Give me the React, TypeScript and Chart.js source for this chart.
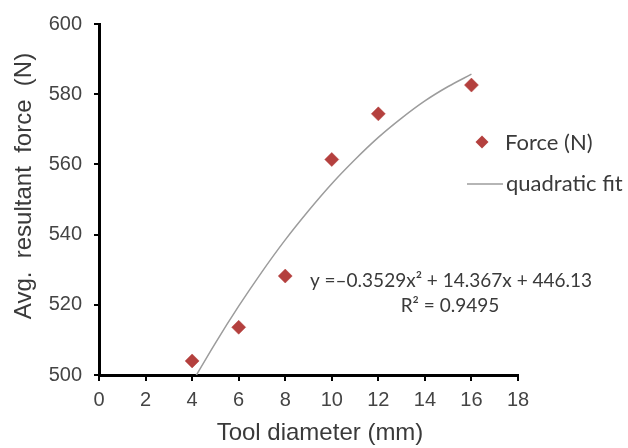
import React, { useEffect, useRef } from "react";
import { Chart, registerables } from "chart.js";

Chart.register(...registerables);

const forceX = [4, 6, 8, 10, 12, 16];
const forceY = [504, 513.6, 528.2, 561.4, 574.4, 582.6];

const fitX = [4, 5, 6, 7, 8, 9, 10, 11, 12, 13, 14, 15, 16];
const fitY = [497.9, 509.1, 519.6, 529.4, 538.5, 546.8, 554.5, 561.4, 567.7, 573.2, 578.1, 582.2, 585.7];

const xTicks = [0, 2, 4, 6, 8, 10, 12, 14, 16, 18];
const yTicks = [500, 520, 540, 560, 580, 600];

const seriesLabels = ["Force (N)", "quadratic fit"];
const xTitle = "Tool diameter (mm)";
const yTitle = "Avg.  resultant  force  (N)";
const equationText = "y =\u20130.3529x\u00b2 + 14.367x + 446.13";
const r2Text = "R\u00b2 = 0.9495";

const MARKER = "#B4403E";
const FITLINE = "#9C9C9C";
const TEXT = "#3a3a3a";

const extrasPlugin = {
  id: "extras",
  afterDraw(chart: any) {
    const ctx = chart.ctx;
    ctx.save();
    ctx.fillStyle = TEXT;
    // axis titles
    ctx.font = "24px 'Liberation Sans'";
    ctx.textAlign = "center";
    ctx.textBaseline = "alphabetic";
    ctx.fillText(xTitle, 320, 440);
    ctx.save();
    ctx.translate(31, 186);
    ctx.rotate(-Math.PI / 2);
    ctx.fillText(yTitle, 0, 0);
    ctx.restore();

    // legend
    const mx = 482, my = 142, r = 6.5;
    ctx.fillStyle = MARKER;
    ctx.beginPath();
    ctx.moveTo(mx - r, my);
    ctx.lineTo(mx, my - r);
    ctx.lineTo(mx + r, my);
    ctx.lineTo(mx, my + r);
    ctx.closePath();
    ctx.fill();
    ctx.strokeStyle = FITLINE;
    ctx.lineWidth = 1.5;
    ctx.beginPath();
    ctx.moveTo(467, 184);
    ctx.lineTo(503, 184);
    ctx.stroke();
    ctx.fillStyle = TEXT;
    ctx.font = "22px Lato";
    ctx.textAlign = "left";
    ctx.textBaseline = "middle";
    ctx.fillText(chart.data.datasets[0].label, 505, 143);
    ctx.fillText(chart.data.datasets[1].label, 506, 184);

    // equation
    ctx.font = "19px Lato";
    ctx.textAlign = "center";
    ctx.textBaseline = "alphabetic";
    ctx.fillText(equationText, 451, 287);
    ctx.fillText(r2Text, 450, 312);
    ctx.restore();
  },
};

export default function App() {
  const ref = useRef<HTMLCanvasElement | null>(null);
  useEffect(() => {
    document.body.style.margin = "0";
    const canvas = ref.current!;
    const chart = new Chart(canvas, {
      type: "scatter",
      data: {
        datasets: [
          {
            type: "scatter",
            label: seriesLabels[0],
            data: forceX.map((x, i) => ({ x, y: forceY[i] })),
            pointStyle: "rectRot",
            pointRadius: 7,
            pointBackgroundColor: MARKER,
            pointBorderColor: MARKER,
            pointBorderWidth: 0.5,
            order: 0,
          },
          {
            type: "line",
            label: seriesLabels[1],
            data: fitX.map((x, i) => ({ x, y: fitY[i] })),
            borderColor: FITLINE,
            borderWidth: 1.5,
            pointRadius: 0,
            showLine: true,
            fill: false,
            cubicInterpolationMode: "monotone",
            order: 1,
          },
        ],
      },
      options: {
        animation: false,
        responsive: false,
        events: [],
        layout: { padding: { left: 0, right: 110, top: 18, bottom: 0 } },
        plugins: {
          legend: { display: false },
          tooltip: { enabled: false },
        },
        scales: {
          x: {
            type: "linear",
            min: 0,
            max: 18,
            afterFit: (s: any) => { s.height = 73; },
            afterBuildTicks: (s: any) => { s.ticks = xTicks.map((v) => ({ value: v })); },
            grid: { display: true, drawOnChartArea: false, drawTicks: true, tickLength: 6, color: "#000", lineWidth: 2 },
            border: { display: true, color: "#000", width: 3 },
            ticks: { color: "#444", font: { family: "'Liberation Sans'", size: 20 }, padding: 7, maxRotation: 0 },
          },
          y: {
            type: "linear",
            min: 500,
            max: 600,
            afterFit: (s: any) => { s.width = 99; },
            afterBuildTicks: (s: any) => { s.ticks = yTicks.map((v) => ({ value: v })); },
            grid: { display: true, drawOnChartArea: false, drawTicks: true, tickLength: 5, color: "#000", lineWidth: 2 },
            border: { display: true, color: "#000", width: 3 },
            ticks: { color: "#444", font: { family: "'Liberation Sans'", size: 20 }, padding: 12 },
          },
        },
      },
      plugins: [extrasPlugin],
    });
    return () => chart.destroy();
  }, []);
  return (
    <div style={{ position: "absolute", left: 0, top: 0, width: 628, height: 448, background: "#fff" }}>
      <canvas ref={ref} width={628} height={448} style={{ display: "block" }} />
    </div>
  );
}
